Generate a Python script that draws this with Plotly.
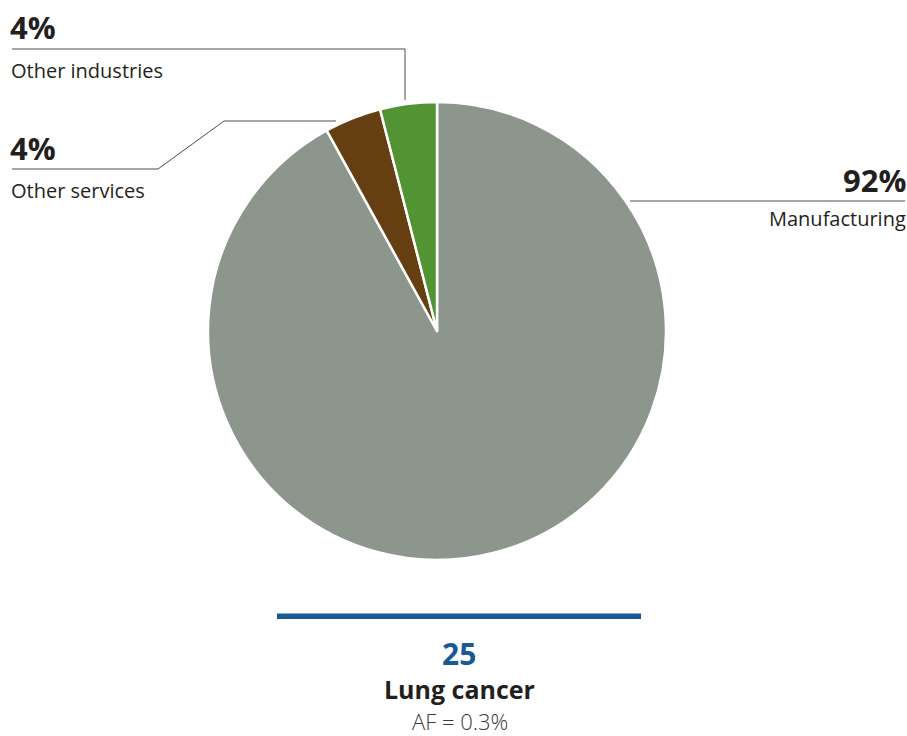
import plotly.graph_objects as go

W, H = 907, 736

labels = ["Manufacturing", "Other services", "Other industries"]
values = [92, 4, 4]
pct_labels = ["92%", "4%", "4%"]
colors = ["#8C968C", "#653E12", "#529334"]

case_count = "25"
cancer_name = "Lung cancer"
af_text = "AF = 0.3%"

FONT = "Open Sans"
DARK = "#231F20"


def px(x):
    return x / W


def py(y):
    return 1 - y / H


cx, cy, r = 437, 331, 229

fig = go.Figure()
fig.add_trace(go.Pie(
    labels=labels,
    values=values,
    marker=dict(colors=colors, line=dict(color="white", width=2.5)),
    sort=False,
    direction="clockwise",
    rotation=0,
    textinfo="none",
    hoverinfo="label+percent",
    showlegend=False,
    domain=dict(x=[px(cx - r), px(cx + r)], y=[py(cy + r), py(cy - r)]),
))

annotations = []
shapes = []


def ann(text, x, y, size, xanchor="left", color=DARK, weight="normal"):
    annotations.append(dict(
        text=text, x=px(x), y=py(y), xref="paper", yref="paper",
        xanchor=xanchor, yanchor="middle", showarrow=False,
        font=dict(family=FONT, size=size, color=color, weight=weight),
    ))


def path(points, color="#4D4D4D", width=1):
    d = "M " + " L ".join(f"{px(x)},{py(y)}" for x, y in points)
    shapes.append(dict(type="path", path=d, xref="paper", yref="paper",
                       line=dict(color=color, width=width)))


# Other industries
ann(pct_labels[2], 8, 27, 31, weight="bold")
ann(labels[2], 9, 70, 20)
path([(12, 49), (405, 49), (405, 100)])

# Other services
ann(pct_labels[1], 8, 148, 31, weight="bold")
ann(labels[1], 9, 190, 20)
path([(12, 169), (158, 169), (224, 121), (336, 121)])

# Manufacturing
ann(pct_labels[0], 908, 180, 31, xanchor="right", weight="bold")
ann(labels[0], 908, 219, 20, xanchor="right")
path([(630, 201), (905, 201)])

# Bottom label
shapes.append(dict(type="rect", xref="paper", yref="paper",
                   x0=px(277), x1=px(641), y0=py(619), y1=py(613.5),
                   fillcolor="#175A96", line=dict(width=0)))
ann(case_count, 459, 653, 30, xanchor="center", color="#175A96", weight="bold")
ann(cancer_name, 459, 689, 25, xanchor="center", weight="bold")
ann(af_text, 460, 721, 22, xanchor="center", color="#3A3A3A", weight=300)

fig.update_layout(
    width=W, height=H,
    margin=dict(l=0, r=0, t=0, b=0),
    paper_bgcolor="white",
    plot_bgcolor="white",
    annotations=annotations,
    shapes=shapes,
    font=dict(family=FONT),
)

fig.write_html("out.html", config={"displayModeBar": False},
               post_script="document.body.style.margin='0px';")
